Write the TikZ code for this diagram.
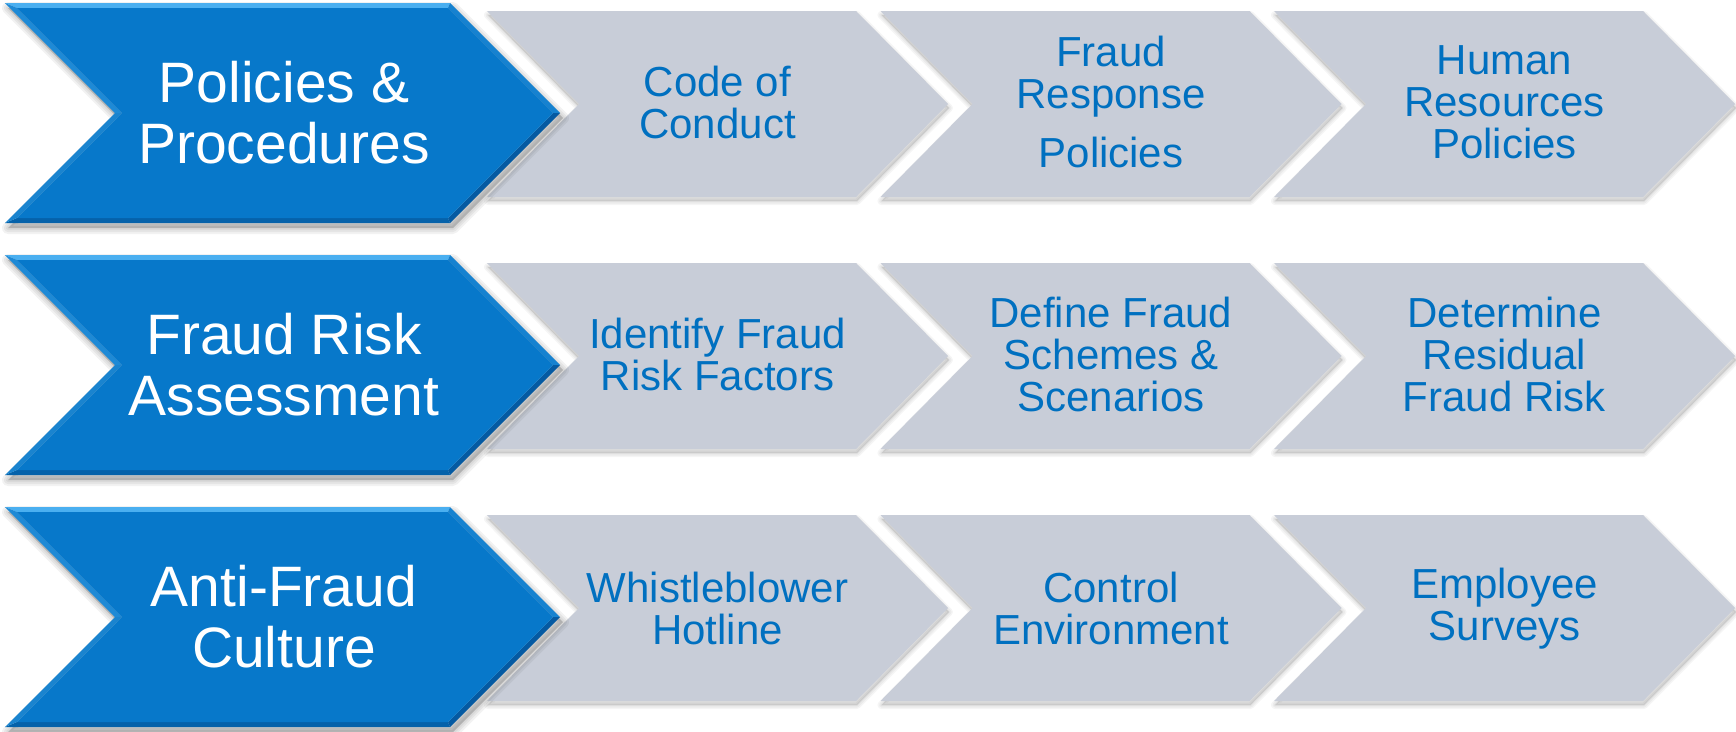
\documentclass[tikz,border=0pt]{standalone}
\usepackage{fontspec}
\setmainfont{Liberation Sans}

\definecolor{chevblue}{HTML}{0778CA}
\definecolor{chevgray}{HTML}{C8CDD8}
\definecolor{textblue}{HTML}{0070C0}
\definecolor{bevtop}{HTML}{4AAFF0}
\definecolor{bevul}{HTML}{1E8AD6}
\definecolor{bevll}{HTML}{1A84CF}
\definecolor{bevur}{HTML}{1682D0}
\definecolor{bevlr}{HTML}{055AA2}
\definecolor{bevbot}{HTML}{0562AA}

\tikzset{
  shadowstroke/.style={draw=black, draw opacity=#1, line join=round},
  shadowfill/.style={fill=black, fill opacity=#1},
  bluetext/.style={text=white, align=center, font=\fontsize{57}{61}\selectfont},
  graytext/.style={text=textblue, align=center, font=\fontsize{42}{42}\selectfont},
}

% Blue header chevron of one row; #1 = vertical offset of the row
\newcommand\bluechevron[1]{%
  \begin{scope}[shift={(0,#1)}]
    % soft drop shadow
    \begin{scope}[shift={(3,5)}]
      \foreach \w in {12,8,4}{
        \draw[shadowstroke=0.05, line width=\w pt]
          (5,3) -- (450,3) -- (560,113) -- (450,223) -- (5,223) -- (115,113) -- cycle;}
      \fill[shadowfill=0.18]
          (5,3) -- (450,3) -- (560,113) -- (450,223) -- (5,223) -- (115,113) -- cycle;
    \end{scope}
    % bevelled rim
    \fill[bevtop] (5,3) -- (450,3) -- (448,8) -- (17,8) -- cycle;
    \fill[bevur]  (450,3) -- (560,113) -- (553,113) -- (448,8) -- cycle;
    \fill[bevlr]  (560,113) -- (450,223) -- (448,218) -- (553,113) -- cycle;
    \fill[bevbot] (450,223) -- (5,223) -- (17,218) -- (448,218) -- cycle;
    \fill[bevll]  (5,223) -- (115,113) -- (122,113) -- (17,218) -- cycle;
    \fill[bevul]  (115,113) -- (5,3) -- (17,8) -- (122,113) -- cycle;
    % face
    \fill[chevblue] (17,8) -- (448,8) -- (553,113) -- (448,218)
                    -- (17,218) -- (122,113) -- cycle;
  \end{scope}}

% Grey step chevron; #1,#2 = top-left corner
\newcommand\graychevron[2]{%
  \begin{scope}[shift={(#1,#2)}]
    \begin{scope}[shift={(1,4)}]
      \foreach \w in {8,5,2}{
        \draw[shadowstroke=0.04, line width=\w pt]
          (0,0) -- (369,0) -- (461,93) -- (369,186) -- (0,186) -- (92,93) -- cycle;}
      \fill[shadowfill=0.10]
          (0,0) -- (369,0) -- (461,93) -- (369,186) -- (0,186) -- (92,93) -- cycle;
    \end{scope}
    \fill[chevgray]
      (0,0) -- (369,0) -- (461,93) -- (369,186) -- (0,186) -- (92,93) -- cycle;
  \end{scope}}

\begin{document}
\begin{tikzpicture}[x=1pt,y=-1pt]
  \fill[white] (0,0) rectangle (1736,731);
  \useasboundingbox (0,0) rectangle (1736,731);

  % grey steps first, so the blue headers overlap their notches
  \foreach \r in {0,1,2}{
    \foreach \c in {0,1,2}{
      \graychevron{487+393.5*\c}{11+252*\r}
    }
  }
  \foreach \r in {0,1,2}{
    \bluechevron{252*\r}
  }

  % row 1
  \node[bluetext] (pol) at (284,113) {Policies \&\\Procedures};
  \node[graytext] (coc) at (717.5,102) {Code of\\Conduct};
  \node[graytext] (frp) at (1111,102) {Fraud\\Response\\[17pt]Policies};
  \node[graytext] (hrp) at (1504.5,102) {Human\\Resources\\Policies};

  % row 2
  \node[bluetext] (fra) at (284,365) {Fraud Risk\\Assessment};
  \node[graytext] (irf) at (717.5,354) {Identify Fraud\\Risk Factors};
  \node[graytext] (dfs) at (1111,354) {Define Fraud\\Schemes \&\\Scenarios};
  \node[graytext] (drr) at (1504.5,354) {Determine\\Residual\\Fraud Risk};

  % row 3
  \node[bluetext] (afc) at (284,617) {Anti-Fraud\\Culture};
  \node[graytext] (wbh) at (717.5,608) {Whistleblower\\Hotline};
  \node[graytext] (cen) at (1111,608) {Control\\Environment};
  \node[graytext] (ems) at (1504.5,609) {Employee\\Surveys};
\end{tikzpicture}
\end{document}
